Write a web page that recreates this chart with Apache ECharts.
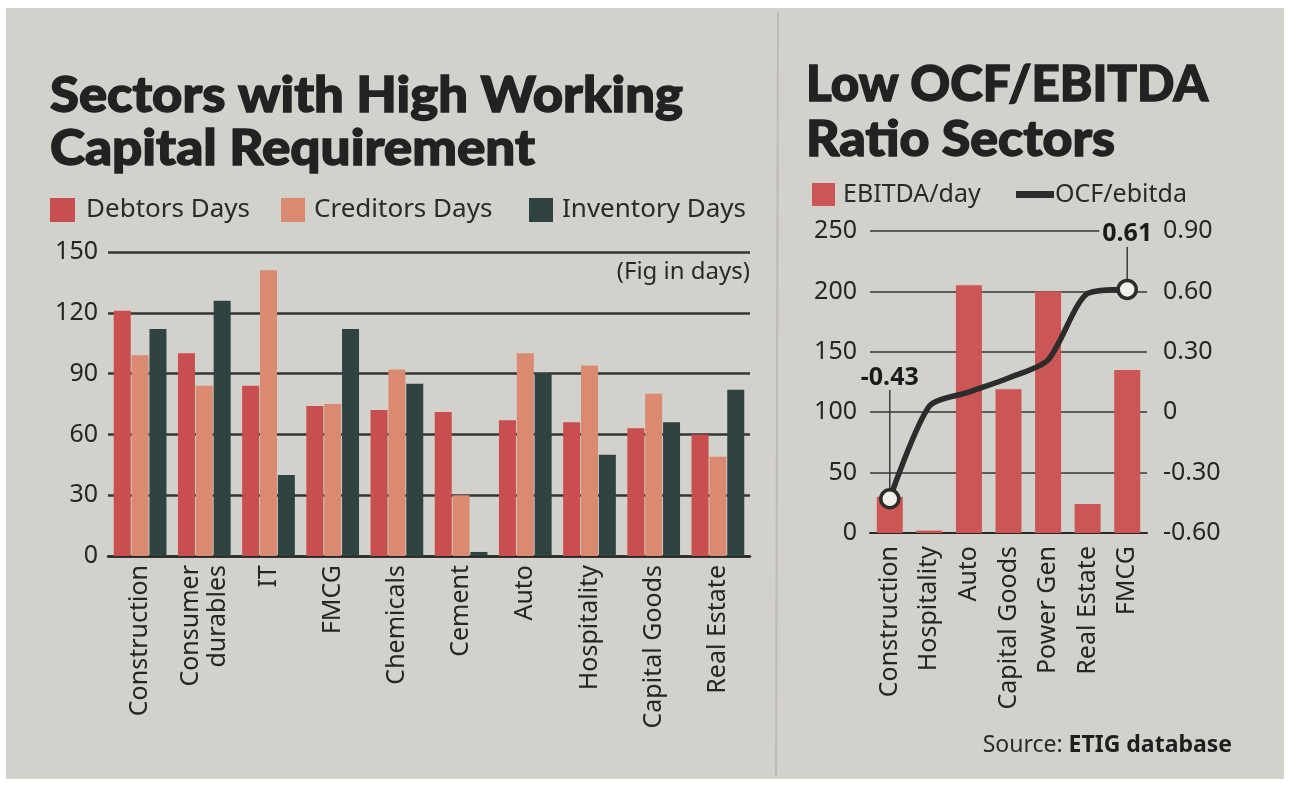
<!DOCTYPE html>
<html>
<head>
<meta charset="utf-8">
<script src="https://cdn.jsdelivr.net/npm/echarts@6/dist/echarts.min.js"></script>
<style>
  html, body { margin: 0; padding: 0; background: #ffffff; }
  #chart { width: 1289px; height: 787px; }
</style>
</head>
<body>
<div id="chart"></div>
<script>
// Working-capital days by sector
const wcSectors = ['Construction', 'Consumer\ndurables', 'IT', 'FMCG', 'Chemicals', 'Cement', 'Auto', 'Hospitality', 'Capital Goods', 'Real Estate'];
const debtorsDays   = [121, 100, 84, 74, 72, 71, 67, 66, 63, 60];
const creditorsDays = [99, 84, 141, 75, 92, 30, 100, 94, 80, 49];
const inventoryDays = [112, 126, 40, 112, 85, 2, 90, 50, 66, 82];
const daysTicks = { min: 0, max: 150, interval: 30 };

// EBITDA per day and OCF/EBITDA ratio by sector
const ratioSectors = ['Construction', 'Hospitality', 'Auto', 'Capital Goods', 'Power Gen', 'Real Estate', 'FMCG'];
const ebitdaPerDay = [30, 2, 205, 119, 200, 24, 135];
const ocfToEbitda  = [-0.43, 0.03, 0.10, 0.17, 0.26, 0.59, 0.61];
const ebitdaTicks = { min: 0, max: 250, interval: 50 };
const ratioTicks  = { min: -0.6, max: 0.9, interval: 0.3 };
const labelledRatioPoints = [0, ocfToEbitda.length - 1];

const BG = '#d3d1cc';
const INK = '#222222';
const FONT = '"Noto Sans", "Open Sans", sans-serif';
const TITLE_FONT = '900 50px Lato, "Noto Sans", sans-serif';

const RED = '#c84f4d';
const SALMON = '#d98a70';
const SLATE = '#2f4343';
const EBITDA_RED = '#cb5654';
const LINE_INK = '#2c2c2c';

// squeeze a heavy headline into a fixed width
const measureCtx = document.createElement('canvas').getContext('2d');
function fitted(text, x, y, width) {
  measureCtx.font = TITLE_FONT;
  const w = measureCtx.measureText(text).width;
  return {
    type: 'text', x: x, y: y, scaleX: width / w, scaleY: 1,
    style: { text: text, x: 0, y: 0, font: TITLE_FONT, fill: INK, stroke: INK, lineWidth: 1.4, verticalAlign: 'bottom' },
    z: 10
  };
}

const ratioData = ocfToEbitda.map((v, i) => {
  if (labelledRatioPoints.indexOf(i) < 0) return { value: v, symbol: 'none' };
  return {
    value: v,
    symbol: 'circle',
    symbolSize: 18,
    itemStyle: { color: '#f1efe9', borderColor: LINE_INK, borderWidth: 3.5 },
    label: {
      show: true,
      position: 'top',
      distance: 6,
      formatter: p => p.value.toFixed(2),
      fontFamily: FONT, fontWeight: 'bold', fontSize: 25, color: '#1b1b1b',
      backgroundColor: BG, padding: [0, 3]
    },
    labelLine: { show: true, lineStyle: { color: '#3a3a3a', width: 1.5 } }
  };
});

const axisText = { fontFamily: FONT, fontSize: 25, color: '#262626' };

const option = {
  animation: false,
  backgroundColor: '#ffffff',
  graphic: [
    { type: 'rect', shape: { x: 6, y: 8, width: 1278, height: 771 }, style: { fill: BG }, z: -10 },
    { type: 'line', shape: { x1: 778, y1: 12, x2: 776, y2: 776 }, style: { stroke: '#bdbbb5', lineWidth: 2 }, z: -5 },
    fitted('Sectors with High Working', 50, 121, 633),
    fitted('Capital Requirement', 50, 174, 485),
    fitted('Low OCF/EBITDA', 806, 110, 402),
    fitted('Ratio Sectors', 806, 165, 309),
    {
      type: 'text', x: 750, y: 272,
      style: { text: '(Fig in days)', font: '24px ' + FONT, fill: '#2a2a2a', align: 'right', verticalAlign: 'middle' }
    },
    {
      type: 'text', x: 1232, y: 745,
      style: {
        text: '{r|Source: }{b|ETIG database}', align: 'right', verticalAlign: 'middle',
        rich: {
          r: { font: '23px ' + FONT, fill: '#2a2a2a' },
          b: { font: 'bold 23px ' + FONT, fill: '#1e1e1e' }
        }
      }
    }
  ],
  legend: [
    { data: ['Debtors Days'], left: 45, top: 192, icon: 'rect', itemWidth: 25, itemHeight: 24, selectedMode: false,
      textStyle: { fontFamily: FONT, fontSize: 26, color: '#2a2a2a', padding: [0, 0, 0, 6] } },
    { data: ['Creditors Days'], left: 276, top: 192, icon: 'rect', itemWidth: 24, itemHeight: 24, selectedMode: false,
      textStyle: { fontFamily: FONT, fontSize: 26, color: '#2a2a2a', padding: [0, 0, 0, 4] } },
    { data: ['Inventory Days'], left: 524, top: 192, icon: 'rect', itemWidth: 24, itemHeight: 24, selectedMode: false,
      textStyle: { fontFamily: FONT, fontSize: 26, color: '#2a2a2a', padding: [0, 0, 0, 4] } },
    { data: ['EBITDA/day'], left: 807, top: 177, icon: 'rect', itemWidth: 23, itemHeight: 23, selectedMode: false,
      textStyle: { fontFamily: FONT, fontSize: 25, color: '#2a2a2a', padding: [0, 0, 0, 3] } },
    { data: ['OCF/ebitda'], left: 1011, top: 177, icon: 'rect', itemWidth: 38, itemHeight: 7, selectedMode: false,
      textStyle: { fontFamily: FONT, fontSize: 25, color: '#2a2a2a', padding: [0, 0, 0, -4] } }
  ],
  grid: [
    { left: 108, width: 642, top: 252, height: 304 },
    { left: 870, width: 277, top: 231, height: 302 }
  ],
  xAxis: [
    {
      type: 'category', gridIndex: 0, data: wcSectors,
      axisLine: { lineStyle: { color: '#2a2a2a', width: 2.5 } },
      axisTick: { show: false },
      axisLabel: Object.assign({ rotate: 90, interval: 0, margin: 9, lineHeight: 27 }, axisText)
    },
    {
      type: 'category', gridIndex: 1, data: ratioSectors,
      axisLine: { lineStyle: { color: '#2a2a2a', width: 2 } },
      axisTick: { show: false },
      axisLabel: Object.assign({ rotate: 90, interval: 0, margin: 13 }, axisText)
    }
  ],
  yAxis: [
    {
      type: 'value', gridIndex: 0, min: daysTicks.min, max: daysTicks.max, interval: daysTicks.interval,
      axisLine: { show: false }, axisTick: { show: false },
      axisLabel: Object.assign({ margin: 10 }, axisText),
      splitLine: { lineStyle: { color: '#343434', width: 2.5 } }
    },
    {
      type: 'value', gridIndex: 1, min: ebitdaTicks.min, max: ebitdaTicks.max, interval: ebitdaTicks.interval,
      axisLine: { show: false }, axisTick: { show: false },
      axisLabel: Object.assign({ margin: 13 }, axisText),
      splitLine: { lineStyle: { color: '#343434', width: 1.6 } }
    },
    {
      type: 'value', gridIndex: 1, position: 'right',
      min: ratioTicks.min, max: ratioTicks.max, interval: ratioTicks.interval,
      axisLine: { show: false }, axisTick: { show: false },
      axisLabel: Object.assign({
        margin: 16,
        formatter: v => (Math.abs(v) < 1e-9 ? '0' : v.toFixed(2))
      }, axisText),
      splitLine: { show: false }
    }
  ],
  series: [
    { name: 'Debtors Days', type: 'bar', xAxisIndex: 0, yAxisIndex: 0, data: debtorsDays,
      barWidth: 17, barGap: '5%', itemStyle: { color: RED } },
    { name: 'Creditors Days', type: 'bar', xAxisIndex: 0, yAxisIndex: 0, data: creditorsDays,
      barWidth: 17, barGap: '5%', itemStyle: { color: SALMON } },
    { name: 'Inventory Days', type: 'bar', xAxisIndex: 0, yAxisIndex: 0, data: inventoryDays,
      barWidth: 17, barGap: '5%', itemStyle: { color: SLATE } },
    { name: 'EBITDA/day', type: 'bar', xAxisIndex: 1, yAxisIndex: 1, data: ebitdaPerDay,
      barWidth: 26, itemStyle: { color: EBITDA_RED } },
    { name: 'OCF/ebitda', type: 'line', xAxisIndex: 1, yAxisIndex: 2, data: ratioData,
      smooth: 0.25, z: 5,
      lineStyle: { color: LINE_INK, width: 5.5 },
      itemStyle: { color: LINE_INK },
      labelLayout: p => ({ dy: p.dataIndex === 0 ? -92 : -26 })
    }
  ]
};

const chart = echarts.init(document.getElementById('chart'), null, { renderer: 'canvas' });
chart.setOption(option);
</script>
</body>
</html>
